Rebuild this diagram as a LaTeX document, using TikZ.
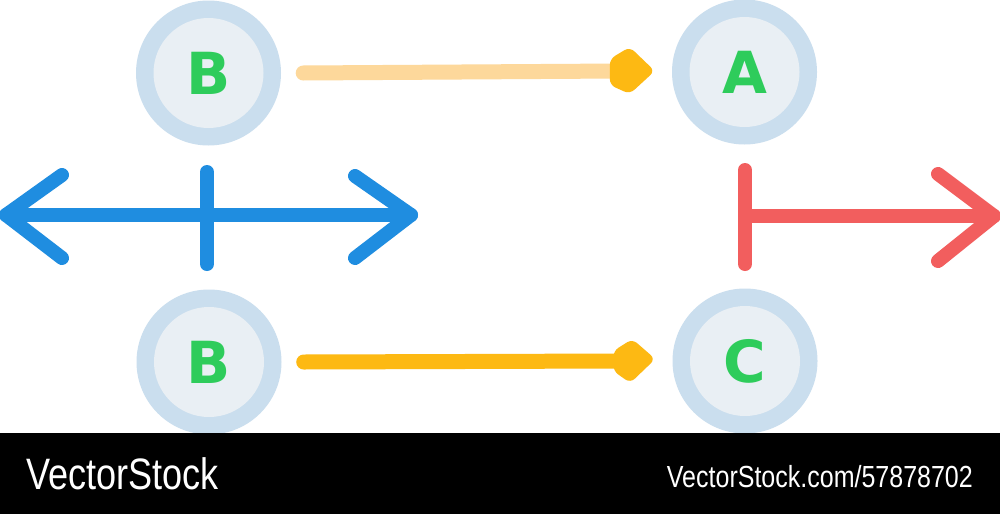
\documentclass[tikz,border=0pt]{standalone}
\usepackage{fontspec}
\setmainfont{Liberation Sans}
\newfontfamily\letterfont{DejaVu Sans}
\newfontfamily\barfont[FakeStretch=0.82]{Liberation Sans}
\definecolor{ringout}{HTML}{CADEEE}
\definecolor{ringin}{HTML}{E9EFF4}
\definecolor{lettergreen}{HTML}{2ECC5B}
\definecolor{peach}{HTML}{FDD89B}
\definecolor{amber}{HTML}{FDB913}
\definecolor{bluearr}{HTML}{1F8DE0}
\definecolor{redarr}{HTML}{F25E5E}
\begin{document}
\begin{tikzpicture}[x=1pt,y=-1pt,
  ring/.style={circle,fill=ringout,minimum size=145pt,inner sep=0pt,
    path picture={\fill[ringin] (path picture bounding box.center) circle (55pt);}},
  lettertext/.style={font=\letterfont\bfseries\fontsize{58}{58}\selectfont,text=lettergreen},
  stroke/.style={line width=14pt,line cap=round,line join=round},
  flow/.style={line width=15pt,line cap=round}]
\useasboundingbox (0,0) rectangle (1000,514);
\fill[white] (0,0) rectangle (1000,514);
% circles
\node[ring] (b1) at (208.5,73) {};
\node[ring] (a) at (744.5,72) {};
\node[ring] (b2) at (209,362) {};
\node[ring] (c) at (745,361) {};
\node[lettertext] (lb1) at (b1.center) {B};
\node[lettertext] (la) at (a.center) {A};
\node[lettertext] (lb2) at (b2.center) {B};
\node[lettertext] (lc) at (c.center) {C};
% top connector B -> A
\draw[flow,peach] ([xshift=22pt]b1.east) -- ([xshift=-52pt,yshift=1pt]a.west) coordinate (h1);
\fill[amber,rounded corners=6pt] ([xshift=-10pt,yshift=-14pt]h1) -- ([xshift=10pt,yshift=-23pt]h1)
  -- ([xshift=35pt,yshift=0pt]h1) -- ([xshift=10pt,yshift=24pt]h1) -- ([xshift=-10pt,yshift=12pt]h1) -- cycle;
% bottom connector B -> C
\draw[flow,amber] ([xshift=22pt,yshift=0pt]b2.east) -- ([xshift=-50pt,yshift=0pt]c.west) coordinate (h2);
\fill[amber,rounded corners=6pt] ([xshift=-9pt,yshift=-10pt]h2) -- ([xshift=8pt,yshift=-22pt]h2)
  -- ([xshift=33pt,yshift=2pt]h2) -- ([xshift=10pt,yshift=22pt]h2) -- ([xshift=-9pt,yshift=10pt]h2) -- cycle;
% blue double arrow
\coordinate (bl) at (6,215);
\coordinate (br) at (411,215);
\draw[stroke,bluearr] (bl) -- (br);
\draw[stroke,bluearr] (62,175) -- (bl) -- (62,258);
\draw[stroke,bluearr] (355,176) -- (br) -- (355,258);
\draw[stroke,bluearr] (207,172) -- (207,264);
% red arrow
\coordinate (rl) at (745,216);
\coordinate (rr) at (994,216);
\draw[stroke,redarr] (rl) -- (rr);
\draw[stroke,redarr] (938,174) -- (rr) -- (938,261);
\draw[stroke,redarr] (745,170) -- (745,264);
% bottom bar
\fill[black] (0,433) rectangle (1000,514);
\node[anchor=west,text=white,font=\barfont\fontsize{44}{44}\selectfont,inner sep=0pt] (brand) at (26,474) {VectorStock};
\node[anchor=east,text=white,font=\barfont\fontsize{30.5}{30.5}\selectfont,inner sep=0pt] (url) at (973,477) {VectorStock.com/57878702};
\end{tikzpicture}
\end{document}
